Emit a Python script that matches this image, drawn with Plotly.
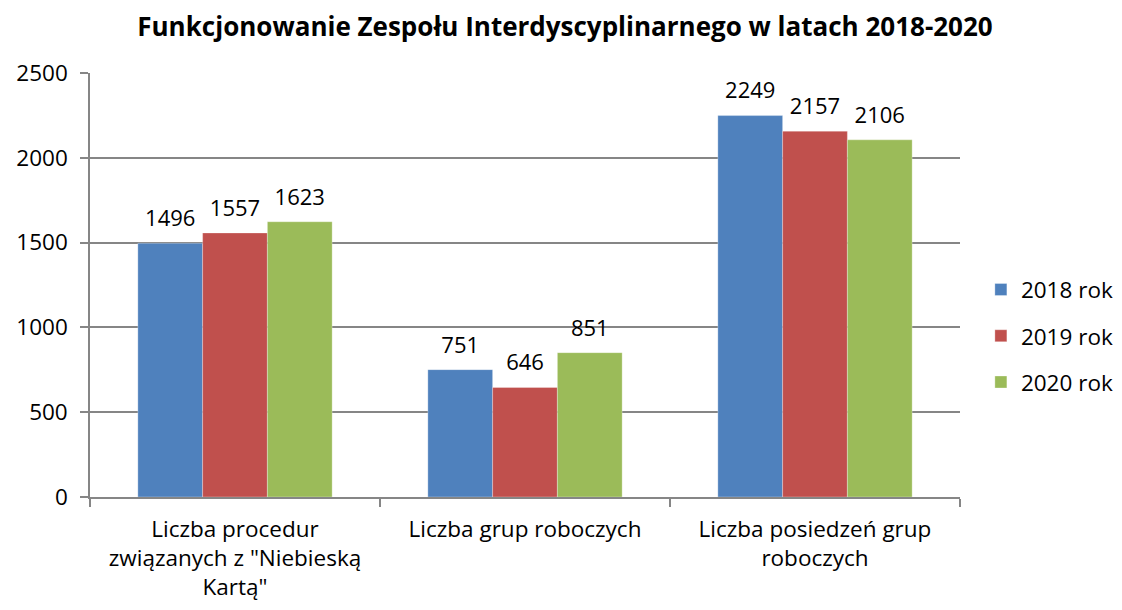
import plotly.graph_objects as go

categories = ["Liczba procedur<br>związanych z \"Niebieską<br>Kartą\"",
              "Liczba grup roboczych",
              "Liczba posiedzeń grup<br>roboczych"]
series_names = ["2018 rok", "2019 rok", "2020 rok"]
values_2018 = [1496, 751, 2249]
values_2019 = [1557, 646, 2157]
values_2020 = [1623, 851, 2106]
colors = ["#4F81BD", "#C0504D", "#9BBB59"]
y_ticks = [0, 500, 1000, 1500, 2000, 2500]

FONT = "'Open Sans', sans-serif"
FS = 22.5
GAP = 0.33

fig = go.Figure()
for name, vals, col in zip(series_names, [values_2018, values_2019, values_2020], colors):
    fig.add_trace(go.Bar(
        name=name, x=categories, y=vals, legendgroup=name, offsetgroup=name,
        marker=dict(color=col, line=dict(color="rgba(255,255,255,0.6)", width=0.5)),
    ))
for name, vals in zip(series_names, [values_2018, values_2019, values_2020]):
    fig.add_trace(go.Scatter(
        x=categories, y=vals, mode="markers+text", offsetgroup=name,
        text=[str(v) for v in vals], textposition="top center",
        marker=dict(size=17, opacity=0), showlegend=False, hoverinfo="skip",
        cliponaxis=False,
        textfont=dict(size=22, color="#000000", family=FONT),
    ))

fig.update_layout(
    width=1114, height=602,
    paper_bgcolor="white", plot_bgcolor="white",
    barmode="group", bargap=GAP, bargroupgap=0,
    scattermode="group", scattergap=GAP,
    margin=dict(l=82, r=162, t=65, b=113, autoexpand=False),
    font=dict(family=FONT, size=FS, color="#000000"),
    title=dict(text="<b>Funkcjonowanie Zespołu Interdyscyplinarnego w latach 2018-2020</b>",
               x=0.5, xanchor="center", y=0.969, yanchor="middle",
               font=dict(size=26, family=FONT, color="#000000")),
    legend=dict(x=1.024, xanchor="left", y=0.38, yanchor="middle",
                font=dict(size=FS, family=FONT), tracegroupgap=14,
                itemwidth=30),
    showlegend=True,
)
fig.update_xaxes(
    showline=True, linecolor="#868686", linewidth=1.5,
    ticks="outside", tickson="boundaries", ticklen=8, tickcolor="#868686", tickwidth=1.5,
    tickfont=dict(size=FS, family=FONT), mirror=False, showgrid=False,
    ticklabelstandoff=11,
)
fig.update_yaxes(
    range=[0, 2500], tickvals=y_ticks,
    showline=True, linecolor="#868686", linewidth=1.5,
    showgrid=True, gridcolor="#868686", gridwidth=1.5,
    ticks="outside", ticklen=8, tickcolor="#868686", tickwidth=1.5,
    tickfont=dict(size=FS, family=FONT), zeroline=False,
    ticklabelstandoff=8,
)

fig.write_html("out.html")
